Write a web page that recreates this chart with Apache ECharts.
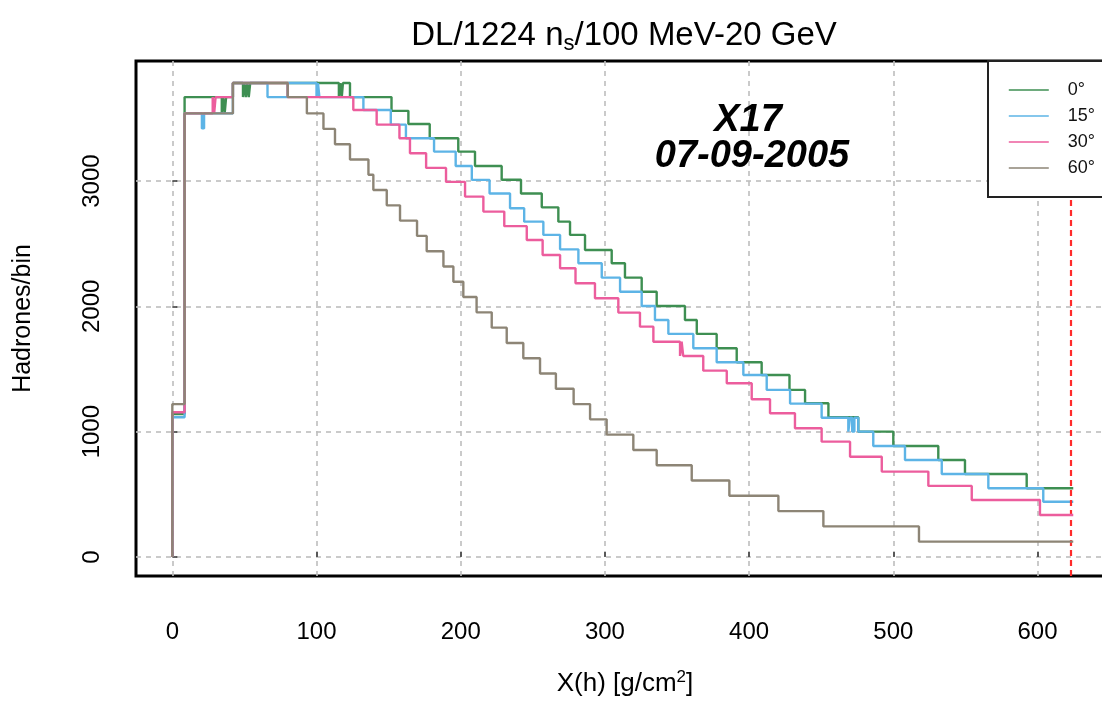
<!DOCTYPE html>
<html>
<head>
<meta charset="utf-8">
<script src="https://cdn.jsdelivr.net/npm/echarts@6/dist/echarts.min.js"></script>
<style>
  html, body { margin: 0; padding: 0; background: #fff; overflow: hidden; }
  /* The frame continues past the right edge of the page, so the canvas is a bit wider than the window. */
  #chart { width: 1122px; height: 702px; }
</style>
</head>
<body>
<div id="chart"></div>
<script>
// Longitudinal hadron profiles (step histograms) for four zenith angles.
const angles = ['0°', '15°', '30°', '60°'];

// Bin edges in g/cm² and hadron counts per bin (count i spans edges i .. i+1).
const edges0 = [0, 8.5, 34.3, 35.3, 36.3, 37.3, 42, 49, 50, 51, 52, 53, 54, 115.5, 116.5, 117.5, 118.3, 123.2, 152, 163.7, 178.5, 198.3, 209.9, 228.4, 241.8, 256.2, 267.7, 275.8, 286.2, 304.7, 313.9, 325.5, 335.9, 355.5, 363.7, 377.5, 391.4, 408.7, 428, 438.8, 455, 475.7, 500, 531.2, 549.7, 592.5, 624.8];
const hadrons0 = [1140, 3670, 3540, 3670, 3540, 3670, 3782, 3670, 3782, 3670, 3782, 3670, 3782, 3670, 3782, 3670, 3782, 3670, 3560, 3455, 3341, 3235, 3120, 3010, 2900, 2790, 2676, 2570, 2450, 2344, 2229, 2117, 2003, 1891, 1780, 1665, 1554, 1452, 1333, 1227, 1115, 1000, 886, 774, 662, 548];

const edges15 = [0, 8.5, 20.5, 22, 42, 66, 80, 100, 101, 102, 132.5, 151.5, 162, 181.5, 196.5, 207.7, 220, 234.2, 244, 257.3, 268.9, 281.6, 297.8, 310.5, 325.5, 334.7, 344, 361.3, 377.5, 396, 412.2, 428.4, 450.3, 468.8, 470, 471.5, 473, 475.7, 486.1, 508.1, 533.6, 565.9, 604, 624.8];
const hadrons15 = [1115, 3540, 3420, 3540, 3782, 3670, 3782, 3670, 3782, 3670, 3567, 3450, 3341, 3235, 3120, 3009, 2900, 2783, 2676, 2570, 2455, 2344, 2229, 2117, 2003, 1891, 1780, 1665, 1554, 1452, 1333, 1224, 1111, 1000, 1111, 1000, 1111, 1000, 886, 774, 662, 548, 441];

const edges30 = [0, 8.5, 28, 29, 30, 42, 80, 125.5, 141.7, 157.5, 164.8, 176, 189.8, 203, 215.7, 230.2, 245.8, 256.8, 268.9, 279.6, 293.1, 309.3, 324.3, 333.6, 352.1, 353.2, 354.3, 368.2, 384.5, 401.8, 414.5, 431.8, 450.3, 470, 492, 524.3, 554.4, 601.7, 624.8];
const hadrons30 = [1155, 3540, 3670, 3540, 3670, 3782, 3670, 3567, 3450, 3341, 3222, 3105, 2993, 2876, 2756, 2640, 2530, 2410, 2304, 2184, 2065, 1950, 1838, 1718, 1604, 1718, 1604, 1487, 1386, 1259, 1147, 1027, 920, 800, 681, 567, 455, 335];

const edges60 = [0, 8.5, 42, 80, 93.3, 104.8, 112.8, 123.2, 136, 139.4, 148.7, 157.9, 169.7, 176.4, 188, 194.9, 201.8, 211, 221.5, 231.9, 243.4, 255, 266, 278.3, 289.7, 301.2, 319.7, 335.9, 360.2, 386.3, 420.3, 451.5, 517.8, 624.8];
const hadrons60 = [1220, 3540, 3782, 3670, 3540, 3416, 3294, 3172, 3050, 2928, 2806, 2684, 2562, 2440, 2318, 2196, 2074, 1952, 1830, 1708, 1586, 1464, 1342, 1220, 1098, 976, 854, 732, 610, 488, 366, 244, 122];

// Depth of the observation level (dashed red marker).
const groundDepth = 623;

const xTickValues = [0, 100, 200, 300, 400, 500, 600];
const yTickValues = [0, 1000, 2000, 3000];

const colors = ['#3e8f52', '#5db4e6', '#ec5d9d', '#8d8576'];
const FONT = '"Liberation Sans", Arial, Helvetica, sans-serif';

// Turn edges + counts into step-line points (step at the end of each bin).
function stepPoints(edges, counts) {
  const pts = [[edges[0], 0]];
  for (let i = 0; i < counts.length; i++) pts.push([edges[i], counts[i]]);
  pts.push([edges[edges.length - 1], counts[counts.length - 1]]);
  return pts;
}

const profiles = [
  [edges0, hadrons0],
  [edges15, hadrons15],
  [edges30, hadrons30],
  [edges60, hadrons60]
];

const series = profiles.map(function (p, i) {
  const s = {
    name: angles[i],
    type: 'line',
    step: 'end',
    symbol: 'none',
    data: stepPoints(p[0], p[1]),
    lineStyle: { color: colors[i], width: 2.4 },
    itemStyle: { color: colors[i] },
    z: 3 + i
  };
  if (i === profiles.length - 1) {
    s.markLine = {
      silent: true,
      symbol: 'none',
      label: { show: false },
      lineStyle: { color: '#ff2b2b', type: [6, 4], width: 2.2 },
      data: [{ xAxis: groundDepth }]
    };
  }
  return s;
});

const chart = echarts.init(document.getElementById('chart'), null, { renderer: 'canvas' });

chart.setOption({
  animation: false,
  backgroundColor: '#ffffff',
  title: {
    text: '{a|DL/1224 n}{s|s}{a|/100 MeV-20 GeV}',
    left: 619,
    textAlign: 'center',
    top: 12,
    textStyle: {
      fontWeight: 'normal',
      rich: {
        a: { fontSize: 33, fontWeight: 'normal', fontFamily: FONT, color: '#000', lineHeight: 38 },
        s: { fontSize: 22, fontWeight: 'normal', fontFamily: FONT, color: '#000', lineHeight: 23, padding: [15, 0, 0, 0] }
      }
    }
  },
  legend: {
    data: angles,
    orient: 'vertical',
    left: 988,
    top: 61,
    padding: [20, 40, 20, 20],
    borderColor: '#222',
    borderWidth: 2,
    backgroundColor: '#ffffff',
    itemWidth: 40,
    itemHeight: 14,
    itemGap: 8,
    lineStyle: { width: 1.6 },
    itemStyle: { opacity: 0 },
    textStyle: { fontSize: 18, fontFamily: FONT, color: '#111', lineHeight: 18, padding: [0, 0, 0, 14] },
    z: 10
  },
  grid: {
    left: 136,
    top: 61,
    right: 0,
    bottom: 126,
    outerBoundsMode: 'none',
    containLabel: false,
    show: true,
    borderColor: '#000',
    borderWidth: 3,
    backgroundColor: 'transparent'
  },
  xAxis: {
    type: 'value',
    min: -25.2,
    max: 658.6,
    name: '{a|X(h) [g/cm}{p|2}{a|]}',
    nameLocation: 'middle',
    nameGap: 93,
    nameTextStyle: {
      padding: [0, 8, 0, 0],
      rich: {
        a: { fontSize: 26, fontFamily: FONT, color: '#000', lineHeight: 30 },
        p: { fontSize: 17, fontFamily: FONT, color: '#000', lineHeight: 17, padding: [0, 0, 13, 0] }
      }
    },
    axisLine: { show: false },
    axisTick: { show: true, inside: true, length: 5, lineStyle: { color: '#333', width: 1.5 }, customValues: xTickValues },
    axisLabel: {
      customValues: xTickValues,
      formatter: function (v) { return String(v); },
      fontSize: 24, fontFamily: FONT, color: '#000', margin: 44
    },
    splitLine: { show: true, lineStyle: { color: '#bdbdbd', type: [5, 5], width: 1.6 } }
  },
  yAxis: {
    type: 'value',
    min: -152,
    max: 3958,
    name: 'Hadrones/bin',
    nameLocation: 'middle',
    nameGap: 100,
    nameTextStyle: { fontSize: 25, fontFamily: FONT, color: '#000' },
    axisLine: { show: false },
    axisTick: { show: true, inside: true, length: 5, lineStyle: { color: '#333', width: 1.5 }, customValues: yTickValues },
    axisLabel: {
      customValues: yTickValues,
      formatter: function (v) { return String(v); },
      rotate: 90,
      fontSize: 24, fontFamily: FONT, color: '#000', margin: 32
    },
    splitLine: { show: true, lineStyle: { color: '#bdbdbd', type: [5, 5], width: 1.6 } }
  },
  graphic: [
    {
      type: 'text', z: 20,
      style: { text: 'X17', x: 748, y: 121, fill: '#000', fontSize: 38, fontWeight: 'bold', fontStyle: 'italic', fontFamily: FONT, align: 'center', verticalAlign: 'middle' }
    },
    {
      type: 'text', z: 20,
      style: { text: '07-09-2005', x: 752, y: 157, fill: '#000', fontSize: 38, fontWeight: 'bold', fontStyle: 'italic', fontFamily: FONT, align: 'center', verticalAlign: 'middle' }
    }
  ],
  series: series
});
</script>
</body>
</html>
